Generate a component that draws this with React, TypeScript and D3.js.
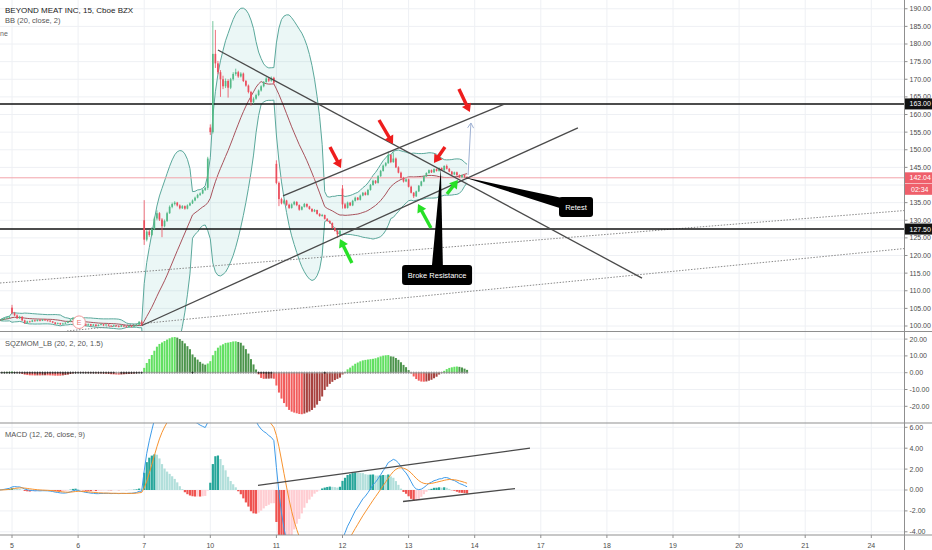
import React from "react";
import * as d3 from "d3";

type Bar = [number, number, number, number]; // open, high, low, close

// 15-minute bars, one array per session
const prevSessionTail: Bar[] = [
  [101.4, 101.8, 101.2, 101.6], [101.6, 102.1, 101.4, 101.9], [101.9, 102.4, 101.7, 102.2],
  [102.2, 102.6, 101.9, 102.4], [102.4, 102.8, 102.1, 102.5],
];
const session5: Bar[] = [
  [105.2, 106.0, 103.3, 103.7], [103.7, 104.0, 102.8, 103.0], [103.0, 103.3, 102.0, 102.2],
  [102.2, 102.9, 102.0, 102.6], [102.6, 102.8, 101.4, 101.6], [101.6, 101.8, 100.6, 100.9],
  [100.9, 101.5, 100.7, 101.3], [101.3, 101.5, 101.0, 101.2], [101.2, 101.8, 101.1, 101.6],
  [101.6, 101.8, 101.2, 101.4], [101.4, 101.9, 101.3, 101.7], [101.7, 101.9, 101.3, 101.5],
  [101.5, 102.0, 101.4, 101.8], [101.8, 102.0, 101.5, 101.6], [101.6, 101.8, 101.3, 101.5],
  [101.5, 101.7, 101.1, 101.3], [101.3, 101.4, 100.8, 101.0], [101.0, 101.1, 100.4, 100.6],
  [100.6, 101.0, 100.5, 100.8], [100.8, 100.9, 100.3, 100.5], [100.5, 100.9, 100.4, 100.7],
  [100.7, 101.1, 100.6, 100.9], [100.9, 101.5, 100.8, 101.3], [101.3, 101.9, 101.2, 101.8],
  [101.8, 102.5, 101.7, 102.3], [102.3, 102.5, 101.8, 102.0],
];
const session6: Bar[] = [
  [102.0, 102.2, 101.0, 101.2], [101.2, 101.4, 100.1, 100.3], [100.3, 100.8, 100.2, 100.6],
  [100.6, 100.7, 100.0, 100.2], [100.2, 100.7, 100.1, 100.5], [100.5, 100.6, 99.9, 100.1],
  [100.1, 100.6, 100.0, 100.4], [100.4, 100.5, 99.8, 100.0], [100.0, 100.5, 99.9, 100.3],
  [100.3, 100.7, 100.2, 100.5], [100.5, 100.6, 100.0, 100.2], [100.2, 100.6, 100.1, 100.4],
  [100.4, 100.5, 99.9, 100.1], [100.1, 100.2, 99.7, 99.9], [99.9, 100.4, 99.8, 100.2],
  [100.2, 100.3, 99.8, 100.0], [100.0, 100.1, 99.6, 99.8], [99.8, 100.3, 99.7, 100.1],
  [100.1, 100.2, 99.7, 99.9], [99.9, 100.0, 99.5, 99.7], [99.7, 100.2, 99.6, 100.0],
  [100.0, 100.1, 99.6, 99.8], [99.8, 100.3, 99.7, 100.1], [100.1, 100.6, 100.0, 100.4],
  [100.4, 101.4, 100.3, 101.2], [101.2, 101.6, 100.0, 100.3],
];
const session7: Bar[] = [
  [130.0, 135.7, 123.0, 124.5], [124.5, 127.2, 124.0, 126.8], [126.8, 127.3, 125.3, 125.8],
  [125.8, 128.0, 125.5, 127.5], [127.5, 131.0, 127.2, 130.5], [130.5, 132.8, 130.0, 132.0],
  [132.0, 132.3, 129.8, 130.2], [130.2, 130.6, 125.2, 128.3], [128.3, 130.2, 128.0, 129.8],
  [129.8, 132.4, 129.5, 132.0], [132.0, 134.2, 131.8, 133.8], [133.8, 135.0, 133.4, 134.6],
  [134.6, 135.4, 134.2, 135.0], [135.0, 135.2, 133.9, 134.2], [134.2, 134.5, 133.1, 133.4],
  [133.4, 134.3, 133.2, 134.0], [134.0, 134.2, 133.0, 133.3], [133.3, 134.5, 133.1, 134.2],
  [134.2, 135.1, 134.0, 134.8], [134.8, 135.9, 134.6, 135.6], [135.6, 136.7, 135.4, 136.4],
  [136.4, 137.5, 136.2, 137.2], [137.2, 137.9, 136.9, 137.6], [137.6, 138.9, 137.4, 138.6],
  [138.6, 139.5, 138.3, 139.2], [139.2, 148.0, 138.6, 147.5],
];
const session10: Bar[] = [
  [156.3, 157.2, 154.2, 155.0], [155.0, 186.5, 154.6, 177.2], [177.2, 184.0, 173.2, 174.5],
  [174.5, 175.2, 171.4, 172.0], [172.0, 172.6, 165.0, 170.0], [170.0, 171.0, 167.2, 168.0],
  [168.0, 170.2, 167.5, 169.5], [169.5, 170.0, 164.8, 167.6], [167.6, 170.4, 167.2, 170.0],
  [170.0, 172.0, 169.6, 171.5], [171.5, 173.0, 171.0, 172.0], [172.0, 172.4, 170.4, 170.8],
  [170.8, 172.0, 170.5, 171.6], [171.6, 171.9, 169.2, 169.5], [169.5, 169.8, 167.9, 168.2],
  [168.2, 168.5, 166.0, 166.4], [166.4, 166.7, 162.5, 163.5], [163.5, 164.9, 163.0, 164.5],
  [164.5, 165.9, 164.2, 165.5], [165.5, 167.1, 165.2, 166.8], [166.8, 168.3, 166.5, 168.0],
  [168.0, 169.5, 167.7, 169.2], [169.2, 170.6, 169.0, 170.2], [170.2, 170.5, 169.2, 169.6],
  [169.6, 170.8, 169.3, 170.4], [170.4, 170.7, 168.6, 169.0],
];
const session11: Bar[] = [
  [146.0, 147.0, 140.2, 140.6], [140.6, 141.0, 134.0, 136.0], [136.0, 136.4, 134.5, 134.8],
  [134.8, 135.9, 134.5, 135.6], [135.6, 135.8, 134.1, 134.4], [134.4, 134.7, 133.2, 133.5],
  [133.5, 134.8, 133.3, 134.5], [134.5, 135.5, 134.2, 135.2], [135.2, 135.4, 134.0, 134.3],
  [134.3, 134.5, 132.7, 133.0], [133.0, 134.0, 132.8, 133.8], [133.8, 134.9, 133.6, 134.6],
  [134.6, 134.8, 133.6, 133.9], [133.9, 134.1, 133.0, 133.2], [133.2, 133.4, 132.3, 132.5],
  [132.5, 133.2, 132.3, 132.9], [132.9, 133.0, 131.6, 131.8], [131.8, 132.0, 131.0, 131.2],
  [131.2, 131.8, 131.0, 131.5], [131.5, 131.6, 130.2, 130.4], [130.4, 130.6, 129.6, 129.8],
  [129.8, 130.0, 129.0, 129.2], [129.2, 129.4, 127.6, 127.8], [127.8, 128.0, 126.8, 127.0],
  [127.0, 127.2, 125.0, 126.0], [126.0, 127.3, 125.6, 127.0],
];
const session12: Bar[] = [
  [139.0, 140.0, 133.3, 134.5], [134.5, 134.9, 133.2, 133.5], [133.5, 135.3, 133.3, 135.0],
  [135.0, 135.2, 134.0, 134.2], [134.2, 135.8, 134.0, 135.5], [135.5, 136.7, 135.3, 136.4],
  [136.4, 136.6, 135.6, 135.8], [135.8, 137.3, 135.6, 137.0], [137.0, 138.0, 136.8, 137.8],
  [137.8, 138.1, 137.0, 137.2], [137.2, 138.9, 137.0, 138.6], [138.6, 140.3, 138.4, 140.0],
  [140.0, 141.5, 139.8, 141.2], [141.2, 141.4, 140.3, 140.6], [140.6, 142.8, 140.4, 142.5],
  [142.5, 144.3, 142.3, 144.0], [144.0, 145.8, 143.8, 145.5], [145.5, 146.5, 145.2, 146.2],
  [146.2, 149.5, 146.0, 148.5], [148.5, 148.8, 146.2, 146.5], [146.5, 149.3, 146.3, 147.5],
  [147.5, 147.8, 144.8, 145.0], [145.0, 145.3, 143.3, 143.5], [143.5, 143.8, 141.8, 142.0],
  [142.0, 142.3, 140.7, 141.0], [141.0, 141.9, 140.8, 141.6],
];
const session13: Bar[] = [
  [141.6, 141.8, 139.3, 139.5], [139.5, 139.8, 137.6, 137.8], [137.8, 138.0, 136.3, 136.8],
  [136.8, 138.4, 136.6, 138.2], [138.2, 140.0, 138.0, 139.8], [139.8, 141.2, 139.6, 141.0],
  [141.0, 142.7, 140.8, 142.5], [142.5, 143.6, 142.3, 143.4], [143.4, 144.4, 143.2, 144.2],
  [144.2, 144.4, 143.4, 143.6], [143.6, 144.7, 143.4, 144.5], [144.5, 144.7, 143.8, 144.0],
  [144.0, 145.0, 143.8, 144.8], [144.8, 145.0, 144.0, 144.2], [144.2, 145.6, 144.0, 145.4],
  [145.4, 145.8, 144.4, 144.6], [144.6, 144.8, 143.6, 143.8], [143.8, 144.0, 142.8, 143.0],
  [143.0, 143.8, 142.8, 143.6], [143.6, 143.8, 142.6, 142.8], [142.8, 143.0, 142.0, 142.2],
  [142.2, 143.0, 142.0, 142.8], [142.8, 143.0, 142.1, 142.3], [142.3, 142.5, 141.9, 142.04],
];

const firstBarIndex = -5; // bars are indexed from the first bar of day 5
const barsPerDay = 26;
const dayLabels = ["5", "6", "7", "10", "11", "12", "13", "14", "17", "18", "19", "20", "21", "24"];
const priceTicks = [190, 185, 180, 175, 170, 165, 160, 155, 150, 145, 140, 135, 130, 125, 120, 115, 110, 105, 100];
const momentumTicks = [20, 10, 0, -10, -20];
const macdTicks = [6, 4, 2, 0, -2, -4];
const keyLevels = [163, 127.5];
const lastPrice = 142.04;
const countdown = "02:34";
const earningsBar = 26.4;

// drawings, as [bar index, price]
const resistanceLine = [[81.0, 178.3], [247.8, 113.6]];
const supportLine = [[51.1, 100.14], [222.6, 156.2]];
const channelTop = [[106.6, 136.9], [193.9, 163.0]];
const dottedUpper = [[-4.72, 112.2], [351.3, 132.77]];
const dottedLower = [[21.63, 98.58], [351.3, 121.99]];
const redArrows = [
  [[125.08, 150.78], [129.4, 144.82]],
  [[144.36, 158.44], [149.86, 151.63]],
  [[170.3, 150.78], [165.97, 146.24]],
  [[175.8, 167.23], [180.1, 160.71]],
];
const greenArrows = [
  [[133.7, 117.87], [129.0, 124.68]],
  [[164.8, 127.8], [159.7, 134.6]],
  [[171.1, 137.45], [175.4, 141.4]],
];
const projectionArrow = [[179.4, 142.84], [180.5, 157.59]];
const macdTrendUpper = [[96.76, 0.44], [203.75, 4.0]];
const macdTrendLower = [[153.8, -1.1], [197.85, 0.14]];
const callouts = [
  { text: "Retest", anchor: [177.4, 142.27], box: [221.85, 133.76], w: 34 },
  { text: "Broke Resistance", anchor: [168.7, 144.68], box: [167.2, 114.47], w: 70 },
];

const bars: Bar[] = [
  ...prevSessionTail, ...session5, ...session6, ...session7,
  ...session10, ...session11, ...session12, ...session13,
];
const closes = bars.map((b) => b[3]);
const highs = bars.map((b) => b[1]);
const lows = bars.map((b) => b[2]);

// ---- indicator math ----
const windowOf = (src: number[], end: number, len: number) => src.slice(Math.max(0, end - len + 1), end + 1);
const sma = (src: number[], end: number, len: number) => d3.mean(windowOf(src, end, len)) as number;
const stdev = (src: number[], end: number, len: number) => {
  const w = windowOf(src, end, len);
  const m = d3.mean(w) as number;
  return Math.sqrt(d3.mean(w, (v) => (v - m) * (v - m)) as number);
};
const emaSeries = (src: number[], len: number) => {
  const a = 2 / (len + 1);
  const out: number[] = [];
  src.forEach((v, i) => out.push(i === 0 ? v : out[i - 1] + a * (v - out[i - 1])));
  return out;
};
const linreg = (src: number[], end: number, len: number) => {
  const w = windowOf(src, end, len);
  const n = w.length;
  if (n < 2) return w[0];
  let sx = 0, sy = 0, sxy = 0, sxx = 0;
  w.forEach((v, k) => { sx += k; sy += v; sxy += k * v; sxx += k * k; });
  const slope = (n * sxy - sx * sy) / (n * sxx - sx * sx);
  const icpt = (sy - slope * sx) / n;
  return icpt + slope * (n - 1);
};

// Bollinger Bands (20, close, 2)
const bb = closes.map((_, i) => {
  const m = sma(closes, i, 20);
  const s = stdev(closes, i, 20);
  return { i: i + firstBarIndex, basis: m, upper: m + 2 * s, lower: m - 2 * s };
});

// Squeeze momentum (20, 2, 20, 1.5)
const tr = bars.map((b, i) => (i === 0 ? b[1] - b[2] : Math.max(b[1] - b[2], Math.abs(b[1] - closes[i - 1]), Math.abs(b[2] - closes[i - 1]))));
const sqzDelta = closes.map((c, i) => {
  const hh = d3.max(windowOf(highs, i, 20)) as number;
  const ll = d3.min(windowOf(lows, i, 20)) as number;
  return c - ((hh + ll) / 2 + sma(closes, i, 20)) / 2;
});
const sqz = closes.map((_, i) => {
  const val = linreg(sqzDelta, i, 20);
  const basis = sma(closes, i, 20);
  const dev = 1.5 * stdev(closes, i, 20);
  const rangeMa = sma(tr, i, 20);
  const upperKC = basis + rangeMa * 1.5, lowerKC = basis - rangeMa * 1.5;
  const on = basis - dev > lowerKC && basis + dev < upperKC;
  const off = basis - dev < lowerKC && basis + dev > upperKC;
  return { i: i + firstBarIndex, val, on, off };
});

// MACD (12, 26, close, 9)
const ema12 = emaSeries(closes, 12);
const ema26 = emaSeries(closes, 26);
const macdLine = closes.map((_, i) => ema12[i] - ema26[i]);
const signalLine = emaSeries(macdLine, 9);
const macd = closes.map((_, i) => ({ i: i + firstBarIndex, macd: macdLine[i], signal: signalLine[i], hist: macdLine[i] - signalLine[i] }));

// ---- layout ----
const W = 932, H = 550;
const PLOT_R = 904.5;
const MAIN_B = 331.5, SQZ_B = 423, MACD_B = 535;
const FONT = "'Liberation Sans', Arial, sans-serif";

const x = d3.scaleLinear().domain([0, barsPerDay]).range([12, 78.1]);
const yP = d3.scaleLinear().domain([100, 190]).range([326, 8.75]);
const yS = d3.scaleLinear().domain([-20, 20]).range([406.3, 339.1]);
const yM = d3.scaleLinear().domain([-4, 6]).range([531.8, 427.3]);

const UP = "#53b987", DOWN = "#eb4d5c";

// price-scale badges (centre y) that hide the tick labels under them
const badgeCentres = [...keyLevels.map((p) => yP(p)), yP(lastPrice), yP(lastPrice) + 11.5];
const visiblePriceTicks = priceTicks.filter((p) => badgeCentres.every((c) => Math.abs(yP(p) - c) > 6));

function Arrow({ from, to, color, width, head }: { from: number[]; to: number[]; color: string; width: number; head: number }) {
  const [x1, y1] = from, [x2, y2] = to;
  const len = Math.hypot(x2 - x1, y2 - y1);
  const ux = (x2 - x1) / len, uy = (y2 - y1) / len;
  const bx = x2 - ux * head, by = y2 - uy * head;
  const hw = head * 0.62;
  return (
    <g>
      <line x1={x1} y1={y1} x2={bx + ux} y2={by + uy} stroke={color} strokeWidth={width} />
      <polygon points={`${x2},${y2} ${bx - uy * hw},${by + ux * hw} ${bx + uy * hw},${by - ux * hw}`} fill={color} />
    </g>
  );
}

const pt = (d: number[]) => [x(d[0]), yP(d[1])];

export default function App() {
  const bbArea = d3.area<any>().x((d) => x(d.i)).y0((d) => yP(d.lower)).y1((d) => yP(d.upper));
  const bbLine = (key: string) => d3.line<any>().x((d) => x(d.i)).y((d) => yP(d[key]))(bb) as string;
  const macdPath = (key: string) => d3.line<any>().x((d) => x(d.i)).y((d) => yM(d[key]))(macd) as string;
  const segP = (s: number[][]) => { const [a, b] = s.map(pt); return { x1: a[0], y1: a[1], x2: b[0], y2: b[1] }; };
  const segM = (s: number[][]) => ({ x1: x(s[0][0]), y1: yM(s[0][1]), x2: x(s[1][0]), y2: yM(s[1][1]) });

  const dayX = dayLabels.map((_, k) => x(k * barsPerDay));

  return (
    <svg width={W} height={H} style={{ position: "absolute", left: 0, top: 0, background: "#fff" }} fontFamily={FONT}>
      <defs>
        <clipPath id="clipMain"><rect x={0} y={0} width={PLOT_R} height={MAIN_B} /></clipPath>
        <clipPath id="clipSqz"><rect x={0} y={MAIN_B} width={PLOT_R} height={SQZ_B - MAIN_B} /></clipPath>
        <clipPath id="clipMacd"><rect x={0} y={SQZ_B} width={PLOT_R} height={MACD_B - SQZ_B} /></clipPath>
      </defs>
      <rect width={W} height={H} fill="#fff" />

      {/* grid */}
      <g stroke="#eef0f4" strokeWidth={1}>
        {dayX.map((dx, k) => <line key={k} x1={dx} x2={dx} y1={0} y2={MACD_B} />)}
        {priceTicks.map((p) => <line key={p} x1={0} x2={PLOT_R} y1={yP(p)} y2={yP(p)} />)}
        {momentumTicks.map((v) => <line key={v} x1={0} x2={PLOT_R} y1={yS(v)} y2={yS(v)} />)}
        {macdTicks.map((v) => <line key={v} x1={0} x2={PLOT_R} y1={yM(v)} y2={yM(v)} />)}
      </g>

      {/* main pane */}
      <g clipPath="url(#clipMain)">
        <path d={bbArea(bb) as string} fill="rgba(38,166,154,0.09)" />
        <path d={bbLine("upper")} fill="none" stroke="#5aa89b" strokeWidth={1} />
        <path d={bbLine("lower")} fill="none" stroke="#5aa89b" strokeWidth={1} />
        <path d={bbLine("basis")} fill="none" stroke="#a8525c" strokeWidth={1} />

        <line {...segP(dottedUpper)} stroke="#8a8a8a" strokeWidth={1} strokeDasharray="1.5,1.5" />
        <line {...segP(dottedLower)} stroke="#8a8a8a" strokeWidth={1} strokeDasharray="1.5,1.5" />

        <line x1={0} x2={PLOT_R} y1={yP(lastPrice)} y2={yP(lastPrice)} stroke="#f3a3aa" strokeWidth={1} />
        {keyLevels.map((p) => <line key={p} x1={0} x2={PLOT_R} y1={yP(p)} y2={yP(p)} stroke="#111" strokeWidth={1.6} />)}

        {bars.map((b, k) => {
          const i = k + firstBarIndex;
          const cx = x(i);
          const col = b[3] >= b[0] ? UP : DOWN;
          const top = yP(Math.max(b[0], b[3])), bot = yP(Math.min(b[0], b[3]));
          return (
            <g key={k}>
              <line x1={cx} x2={cx} y1={yP(b[1])} y2={yP(b[2])} stroke={col} strokeWidth={0.8} />
              <rect x={cx - 0.85} y={top} width={1.7} height={Math.max(0.8, bot - top)} fill={col} />
            </g>
          );
        })}

        <line {...segP(resistanceLine)} stroke="#4a4a4a" strokeWidth={1.3} />
        <line {...segP(supportLine)} stroke="#4a4a4a" strokeWidth={1.3} />
        <line {...segP(channelTop)} stroke="#4a4a4a" strokeWidth={1.3} />

        {redArrows.map((a, k) => <Arrow key={k} from={pt(a[0])} to={pt(a[1])} color="#ee1d1d" width={3.4} head={8} />)}
        {greenArrows.map((a, k) => <Arrow key={k} from={pt(a[0])} to={pt(a[1])} color="#27e027" width={3.4} head={8} />)}
        {(() => {
          const [a, b] = projectionArrow.map(pt);
          const len = Math.hypot(b[0] - a[0], b[1] - a[1]);
          const ux = (b[0] - a[0]) / len, uy = (b[1] - a[1]) / len;
          const hl = 5, hw = 3;
          const bx = b[0] - ux * hl, by = b[1] - uy * hl;
          return (
            <g stroke="#9fb1d3" strokeWidth={1} fill="none">
              <line x1={a[0]} y1={a[1]} x2={b[0]} y2={b[1]} />
              <polyline points={`${bx - uy * hw},${by + ux * hw} ${b[0]},${b[1]} ${bx + uy * hw},${by - ux * hw}`} />
            </g>
          );
        })()}

        {callouts.map((c, k) => {
          const [ax, ay] = pt(c.anchor);
          const [bx, by] = pt(c.box);
          const len = Math.hypot(bx - ax, by - ay);
          const px = -(by - ay) / len, py = (bx - ax) / len;
          const hw = 6;
          return (
            <g key={k}>
              <polygon points={`${ax},${ay} ${bx + px * hw},${by + py * hw} ${bx - px * hw},${by - py * hw}`} fill="#000" />
              <rect x={bx - c.w / 2} y={by - 10} width={c.w} height={20} rx={3} fill="#000" />
              <text x={bx} y={by} dy="0.35em" textAnchor="middle" fontSize={7.5} fill="#fff">{c.text}</text>
            </g>
          );
        })}

        <circle cx={x(earningsBar)} cy={322.2} r={6.3} fill="#fff" stroke="#f29a9a" strokeWidth={1} />
        <text x={x(earningsBar)} y={322.2} dy="0.35em" textAnchor="middle" fontSize={7} fill="#e87070">E</text>
      </g>

      <text x={5} y={12.7} fontSize={8} fill="#222">BEYOND MEAT INC, 15, Cboe BZX</text>
      <text x={5} y={23.3} fontSize={7.5} fill="#555">BB (20, close, 2)</text>
      <text x={0} y={35.8} fontSize={7} fill="#666">ne</text>

      {/* squeeze momentum pane */}
      <g clipPath="url(#clipSqz)">
        {sqz.map((d, k) => {
          const prev = k > 0 ? sqz[k - 1].val : 0;
          const col = d.val > 0 ? (d.val > prev ? "#62e062" : "#4c944c") : (d.val < prev ? "#f25c5c" : "#a8423f");
          const y0 = yS(0), y1 = yS(d.val);
          return <rect key={k} x={x(d.i) - 1} y={Math.min(y0, y1)} width={2} height={Math.abs(y1 - y0)} fill={col} />;
        })}
        {sqz.map((d, k) => {
          const col = d.on ? "#222" : d.off ? "#8c8c8c" : "#4a6fd0";
          const cx = x(d.i), cy = yS(0);
          return (
            <g key={k} stroke={col} strokeWidth={0.8}>
              <line x1={cx - 1.2} x2={cx + 1.2} y1={cy} y2={cy} />
              <line x1={cx} x2={cx} y1={cy - 1.2} y2={cy + 1.2} />
            </g>
          );
        })}
      </g>
      <text x={5} y={345.5} fontSize={7.5} fill="#555">SQZMOM_LB (20, 2, 20, 1.5)</text>

      {/* MACD pane */}
      <g clipPath="url(#clipMacd)">
        {macd.map((d, k) => {
          const prev = k > 0 ? macd[k - 1].hist : 0;
          const col = d.hist >= 0 ? (prev < d.hist ? "#26a69a" : "#b2dfdb") : (prev < d.hist ? "#ffcdd2" : "#ef5350");
          const y0 = yM(0), y1 = yM(d.hist);
          return <rect key={k} x={x(d.i) - 1.1} y={Math.min(y0, y1)} width={2.2} height={Math.abs(y1 - y0)} fill={col} />;
        })}
        <path d={macdPath("macd")} fill="none" stroke="#3d9be9" strokeWidth={1} />
        <path d={macdPath("signal")} fill="none" stroke="#f7932f" strokeWidth={1} />
        <line {...segM(macdTrendUpper)} stroke="#4a4a4a" strokeWidth={1.3} />
        <line {...segM(macdTrendLower)} stroke="#4a4a4a" strokeWidth={1.3} />
      </g>
      <text x={5} y={437} fontSize={7.5} fill="#555">MACD (12, 26, close, 9)</text>

      {/* pane borders and axes */}
      <g stroke="#8f8f8f" strokeWidth={1}>
        <line x1={0} x2={W} y1={MAIN_B} y2={MAIN_B} />
        <line x1={0} x2={W} y1={SQZ_B} y2={SQZ_B} />
        <line x1={0} x2={W} y1={MACD_B} y2={MACD_B} />
        <line x1={PLOT_R} x2={PLOT_R} y1={0} y2={H} />
      </g>

      <g fontSize={7} fill="#4c4c4c">
        {visiblePriceTicks.map((p) => (
          <g key={p}>
            <line x1={PLOT_R} x2={PLOT_R + 3} y1={yP(p)} y2={yP(p)} stroke="#8f8f8f" />
            <text x={909.5} y={yP(p)} dy="0.35em">{p.toFixed(2)}</text>
          </g>
        ))}
        {momentumTicks.map((v) => (
          <g key={v}>
            <line x1={PLOT_R} x2={PLOT_R + 3} y1={yS(v)} y2={yS(v)} stroke="#8f8f8f" />
            <text x={909.5} y={yS(v)} dy="0.35em">{v.toFixed(2)}</text>
          </g>
        ))}
        {macdTicks.map((v) => (
          <g key={v}>
            <line x1={PLOT_R} x2={PLOT_R + 3} y1={yM(v)} y2={yM(v)} stroke="#8f8f8f" />
            <text x={909.5} y={yM(v)} dy="0.35em">{v.toFixed(2)}</text>
          </g>
        ))}
        {dayLabels.map((l, k) => (
          <g key={l}>
            <line x1={dayX[k]} x2={dayX[k]} y1={MACD_B} y2={MACD_B + 3} stroke="#8f8f8f" />
            <text x={dayX[k]} y={547.5} textAnchor="middle">{l}</text>
          </g>
        ))}
      </g>

      {/* price scale badges */}
      {keyLevels.map((p) => (
        <g key={p}>
          <rect x={PLOT_R + 0.5} y={yP(p) - 5.5} width={W - PLOT_R} height={11} fill="#111" />
          <text x={909.5} y={yP(p)} dy="0.35em" fontSize={7} fill="#fff">{p.toFixed(2)}</text>
        </g>
      ))}
      <rect x={PLOT_R + 0.5} y={yP(lastPrice) - 5.5} width={W - PLOT_R} height={11} fill="#ef5f6b" />
      <text x={909.5} y={yP(lastPrice)} dy="0.35em" fontSize={7} fill="#fff">{lastPrice.toFixed(2)}</text>
      <rect x={PLOT_R + 0.5} y={yP(lastPrice) + 6} width={W - PLOT_R} height={11} fill="#ef5f6b" />
      <text x={911} y={yP(lastPrice) + 11.5} dy="0.35em" fontSize={7} fill="#fff">{countdown}</text>
    </svg>
  );
}
